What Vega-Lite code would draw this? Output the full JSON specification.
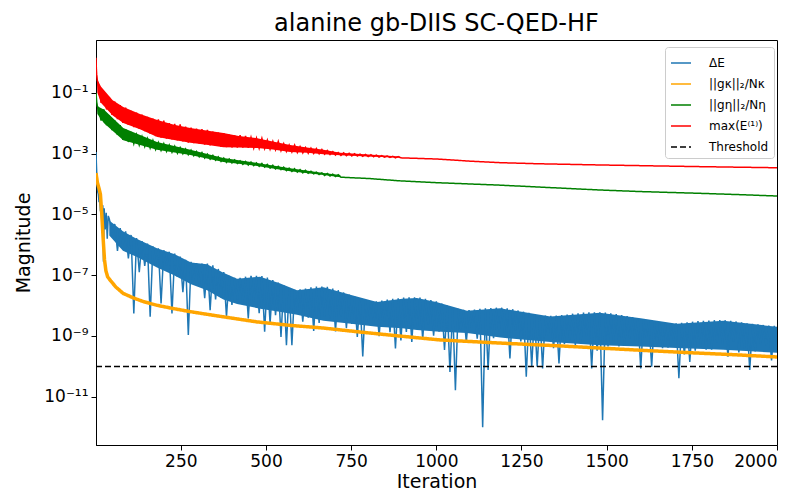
{
"$schema": "https://vega.github.io/schema/vega-lite/v6.json",
"width": 681, "height": 405,
"autosize": "none",
"padding": {"left": 96, "top": 40, "right": 24, "bottom": 53},
"background": "white",
"title": {"text": "alanine gb-DIIS SC-QED-HF", "fontSize": 24, "font": "DejaVu Sans", "fontWeight": "normal", "color": "#000", "offset": 4},
"data": {"values": [
{"b":"dE","x":40,"hi":6.3e-6,"lo":2.0e-6},{"b":"dE","x":80,"hi":2.8e-6,"lo":6.3e-7},{"b":"dE","x":120,"hi":1.58e-6,"lo":4.0e-7},{"b":"dE","x":180,"hi":7.6e-7,"lo":1.78e-7},{"b":"dE","x":230,"hi":5.0e-7,"lo":1.0e-7},{"b":"dE","x":280,"hi":2.6e-7,"lo":5.0e-8},{"b":"dE","x":327,"hi":2.3e-7,"lo":3.16e-8},{"b":"dE","x":375,"hi":1.2e-7,"lo":1.58e-8},{"b":"dE","x":415,"hi":7.6e-8,"lo":1.12e-8},{"b":"dE","x":483,"hi":8.9e-8,"lo":7.9e-9},{"b":"dE","x":540,"hi":5.4e-8,"lo":6.3e-9},{"b":"dE","x":591,"hi":3.16e-8,"lo":5.0e-9},{"b":"dE","x":669,"hi":4.0e-8,"lo":3.16e-9},{"b":"dE","x":750,"hi":2.24e-8,"lo":2.5e-9},{"b":"dE","x":826,"hi":1.32e-8,"lo":2.0e-9},{"b":"dE","x":900,"hi":1.66e-8,"lo":1.78e-9},{"b":"dE","x":943,"hi":1.78e-8,"lo":1.58e-9},{"b":"dE","x":1000,"hi":1.32e-8,"lo":1.41e-9},{"b":"dE","x":1090,"hi":6.8e-9,"lo":1.26e-9},{"b":"dE","x":1188,"hi":8.1e-9,"lo":8.9e-10},{"b":"dE","x":1335,"hi":4.4e-9,"lo":6.3e-10},{"b":"dE","x":1480,"hi":5.75e-9,"lo":5.0e-10},{"b":"dE","x":1600,"hi":3.8e-9,"lo":4.5e-10},{"b":"dE","x":1706,"hi":2.5e-9,"lo":4.0e-10},{"b":"dE","x":1843,"hi":3.16e-9,"lo":3.55e-10},{"b":"dE","x":2000,"hi":2.0e-9,"lo":2.8e-10},
{"b":"ge","x":1,"hi":0.1,"lo":0.1},{"b":"ge","x":5,"hi":3.55e-2,"lo":2.0e-2},{"b":"ge","x":24,"hi":2.8e-2,"lo":1.0e-2},{"b":"ge","x":81,"hi":6.9e-3,"lo":2.75e-3},{"b":"ge","x":180,"hi":2.4e-3,"lo":1.32e-3},{"b":"ge","x":278,"hi":1.32e-3,"lo":8.9e-4},{"b":"ge","x":375,"hi":7.1e-4,"lo":5.25e-4},{"b":"ge","x":474,"hi":4.9e-4,"lo":3.9e-4},{"b":"ge","x":571,"hi":3.3e-4,"lo":2.6e-4},{"b":"ge","x":669,"hi":2.3e-4,"lo":1.95e-4},{"b":"ge","x":718,"hi":1.95e-4,"lo":1.66e-4},
{"b":"mx","x":1,"hi":1.4,"lo":1.4},{"b":"mx","x":5,"hi":0.26,"lo":0.1},{"b":"mx","x":16,"hi":0.158,"lo":0.046},{"b":"mx","x":50,"hi":0.056,"lo":0.0178},{"b":"mx","x":81,"hi":0.034,"lo":0.01},{"b":"mx","x":130,"hi":0.02,"lo":6.3e-3},{"b":"mx","x":181,"hi":0.0126,"lo":3.5e-3},{"b":"mx","x":230,"hi":8.9e-3,"lo":2.8e-3},{"b":"mx","x":278,"hi":6.9e-3,"lo":2.24e-3},{"b":"mx","x":330,"hi":5.6e-3,"lo":1.9e-3},{"b":"mx","x":375,"hi":4.7e-3,"lo":1.62e-3},{"b":"mx","x":420,"hi":3.8e-3,"lo":1.58e-3},{"b":"mx","x":474,"hi":3.2e-3,"lo":1.51e-3},{"b":"mx","x":520,"hi":2.5e-3,"lo":1.35e-3},{"b":"mx","x":571,"hi":1.9e-3,"lo":1.12e-3},{"b":"mx","x":620,"hi":1.58e-3,"lo":1.05e-3},{"b":"mx","x":669,"hi":1.32e-3,"lo":9.5e-4},{"b":"mx","x":718,"hi":1.05e-3,"lo":8.7e-4},{"b":"mx","x":800,"hi":9.3e-4,"lo":7.9e-4},{"b":"mx","x":894,"hi":7.9e-4,"lo":7.2e-4},
{"s":"dE","x":1,"y":1.12e-3},{"s":"dE","x":2,"y":5.0e-4},{"s":"dE","x":3,"y":2.5e-4},{"s":"dE","x":4,"y":1.26e-4},{"s":"dE","x":5,"y":7.9e-5},{"s":"dE","x":6,"y":5.6e-5},{"s":"dE","x":8,"y":4.5e-5},{"s":"dE","x":10,"y":2.5e-5},{"s":"dE","x":12,"y":4.0e-5},{"s":"dE","x":14,"y":1.26e-5},{"s":"dE","x":16,"y":2.8e-5},{"s":"dE","x":19,"y":2.5e-6},{"s":"dE","x":21,"y":2.0e-5},{"s":"dE","x":23,"y":2.75e-7},{"s":"dE","x":25,"y":1.58e-5},{"s":"dE","x":28,"y":3.2e-6},{"s":"dE","x":31,"y":1.12e-5},{"s":"dE","x":34,"y":1.58e-6},{"s":"dE","x":37,"y":8.9e-6},
{"s":"dE","x":40,"y":7.1e-6},{"s":"dE","x":48,"y":2.5e-6},{"s":"dE","x":56,"y":4.8e-6},{"s":"dE","x":64,"y":6.3e-7},{"s":"dE","x":72,"y":3.5e-6},{"s":"dE","x":80,"y":1.0e-6},{"s":"dE","x":88,"y":2.75e-6},{"s":"dE","x":96,"y":3.55e-7},{"s":"dE","x":104,"y":2.1e-6},{"s":"dE","x":112,"y":5.5e-9},{"s":"dE","x":120,"y":1.66e-6},{"s":"dE","x":128,"y":1.26e-7},{"s":"dE","x":136,"y":1.32e-6},{"s":"dE","x":144,"y":2.0e-7},{"s":"dE","x":152,"y":1.1e-6},{"s":"dE","x":160,"y":4.3e-9},{"s":"dE","x":168,"y":8.9e-7},{"s":"dE","x":176,"y":2.3e-7},{"s":"dE","x":184,"y":7.6e-7},{"s":"dE","x":192,"y":1.17e-8},{"s":"dE","x":200,"y":6.6e-7},{"s":"dE","x":208,"y":2.1e-7},{"s":"dE","x":216,"y":5.9e-7},{"s":"dE","x":224,"y":5.5e-9},{"s":"dE","x":232,"y":5.1e-7},{"s":"dE","x":240,"y":8.7e-8},{"s":"dE","x":248,"y":4.1e-7},{"s":"dE","x":256,"y":2.75e-8},{"s":"dE","x":264,"y":3.2e-7},{"s":"dE","x":272,"y":1.07e-9},{"s":"dE","x":280,"y":2.75e-7},{"s":"dE","x":288,"y":6.6e-8},{"s":"dE","x":296,"y":2.5e-7},{"s":"dE","x":304,"y":5.0e-8},{"s":"dE","x":312,"y":2.4e-7},{"s":"dE","x":320,"y":1.74e-8},{"s":"dE","x":328,"y":2.4e-7},{"s":"dE","x":336,"y":7.1e-9},{"s":"dE","x":344,"y":2.1e-7},{"s":"dE","x":352,"y":1.58e-8},{"s":"dE","x":360,"y":1.6e-7},{"s":"dE","x":368,"y":1.86e-8},{"s":"dE","x":376,"y":1.26e-7},{"s":"dE","x":384,"y":4.3e-9},{"s":"dE","x":392,"y":9.5e-8},{"s":"dE","x":400,"y":1.05e-8},{"s":"dE","x":408,"y":8.1e-8},{"s":"dE","x":416,"y":1.6e-8},{"s":"dE","x":424,"y":8.1e-8},{"s":"dE","x":432,"y":1.26e-8},{"s":"dE","x":440,"y":8.9e-8},{"s":"dE","x":448,"y":3.8e-9},{"s":"dE","x":456,"y":9.5e-8},{"s":"dE","x":464,"y":1.35e-8},{"s":"dE","x":472,"y":9.5e-8},{"s":"dE","x":480,"y":5.6e-9},{"s":"dE","x":488,"y":9.3e-8},{"s":"dE","x":496,"y":1.38e-9},{"s":"dE","x":504,"y":8.3e-8},{"s":"dE","x":512,"y":2.6e-9},{"s":"dE","x":520,"y":6.9e-8},{"s":"dE","x":528,"y":4.8e-9},{"s":"dE","x":536,"y":5.75e-8},{"s":"dE","x":544,"y":9.3e-10},{"s":"dE","x":552,"y":4.7e-8},{"s":"dE","x":560,"y":5.0e-10},{"s":"dE","x":568,"y":3.8e-8},{"s":"dE","x":576,"y":5.0e-10},{"s":"dE","x":584,"y":3.3e-8},{"s":"dE","x":592,"y":7.2e-9},{"s":"dE","x":600,"y":3.4e-8},{"s":"dE","x":608,"y":2.95e-9},{"s":"dE","x":616,"y":3.6e-8},{"s":"dE","x":624,"y":4.0e-9},{"s":"dE","x":632,"y":4.0e-8},{"s":"dE","x":640,"y":1.45e-9},{"s":"dE","x":648,"y":4.2e-8},{"s":"dE","x":656,"y":2.7e-9},{"s":"dE","x":664,"y":4.2e-8},{"s":"dE","x":672,"y":4.5e-9},{"s":"dE","x":680,"y":4.1e-8},{"s":"dE","x":688,"y":3.8e-9},{"s":"dE","x":696,"y":3.6e-8},{"s":"dE","x":704,"y":1.41e-9},{"s":"dE","x":712,"y":3.2e-8},{"s":"dE","x":720,"y":4.3e-9},{"s":"dE","x":728,"y":2.7e-8},{"s":"dE","x":736,"y":1.82e-9},{"s":"dE","x":744,"y":2.3e-8},{"s":"dE","x":752,"y":2.5e-9},{"s":"dE","x":760,"y":2.0e-8},{"s":"dE","x":768,"y":9.3e-10},{"s":"dE","x":776,"y":1.74e-8},{"s":"dE","x":784,"y":2.1e-10},{"s":"dE","x":792,"y":1.51e-8},{"s":"dE","x":800,"y":2.95e-9},{"s":"dE","x":808,"y":1.41e-8},{"s":"dE","x":816,"y":2.5e-9},{"s":"dE","x":824,"y":1.38e-8},{"s":"dE","x":832,"y":9.8e-10},{"s":"dE","x":840,"y":1.45e-8},{"s":"dE","x":848,"y":3.0e-9},{"s":"dE","x":856,"y":1.58e-8},{"s":"dE","x":864,"y":1.32e-9},{"s":"dE","x":872,"y":1.66e-8},{"s":"dE","x":880,"y":3.9e-10},{"s":"dE","x":888,"y":1.74e-8},{"s":"dE","x":896,"y":7.1e-10},{"s":"dE","x":904,"y":1.82e-8},{"s":"dE","x":912,"y":1.35e-9},{"s":"dE","x":920,"y":1.86e-8},{"s":"dE","x":928,"y":6.3e-10},{"s":"dE","x":936,"y":1.86e-8},{"s":"dE","x":944,"y":2.0e-9},{"s":"dE","x":952,"y":1.82e-8},{"s":"dE","x":960,"y":7.8e-10},{"s":"dE","x":968,"y":1.66e-8},{"s":"dE","x":976,"y":2.3e-9},{"s":"dE","x":984,"y":1.51e-8},{"s":"dE","x":992,"y":1.02e-9},{"s":"dE","x":1000,"y":1.38e-8},{"s":"dE","x":1008,"y":1.38e-9},{"s":"dE","x":1016,"y":1.17e-8},{"s":"dE","x":1024,"y":3.5e-10},{"s":"dE","x":1032,"y":1.0e-8},{"s":"dE","x":1040,"y":6.6e-11},{"s":"dE","x":1048,"y":8.7e-9},{"s":"dE","x":1056,"y":1.66e-11},{"s":"dE","x":1064,"y":7.8e-9},{"s":"dE","x":1072,"y":1.58e-9},{"s":"dE","x":1080,"y":7.2e-9},{"s":"dE","x":1088,"y":6.2e-10},{"s":"dE","x":1096,"y":7.1e-9},{"s":"dE","x":1104,"y":1.86e-9},{"s":"dE","x":1112,"y":7.4e-9},{"s":"dE","x":1120,"y":8.1e-10},{"s":"dE","x":1128,"y":7.8e-9},{"s":"dE","x":1136,"y":1.0e-12},{"s":"dE","x":1144,"y":8.1e-9},{"s":"dE","x":1152,"y":7.6e-11},{"s":"dE","x":1160,"y":8.3e-9},{"s":"dE","x":1168,"y":8.5e-10},{"s":"dE","x":1176,"y":8.5e-9},{"s":"dE","x":1184,"y":1.45e-9},{"s":"dE","x":1192,"y":8.5e-9},{"s":"dE","x":1200,"y":1.26e-9},{"s":"dE","x":1208,"y":8.1e-9},{"s":"dE","x":1216,"y":1.82e-10},{"s":"dE","x":1224,"y":7.6e-9},{"s":"dE","x":1232,"y":1.51e-9},{"s":"dE","x":1240,"y":6.9e-9},{"s":"dE","x":1248,"y":6.6e-10},{"s":"dE","x":1256,"y":6.3e-9},{"s":"dE","x":1264,"y":4.6e-11},{"s":"dE","x":1272,"y":5.75e-9},{"s":"dE","x":1280,"y":9.8e-11},{"s":"dE","x":1288,"y":5.25e-9},{"s":"dE","x":1296,"y":9.8e-11},{"s":"dE","x":1304,"y":4.9e-9},{"s":"dE","x":1312,"y":8.5e-11},{"s":"dE","x":1320,"y":4.7e-9},{"s":"dE","x":1328,"y":1.02e-9},{"s":"dE","x":1336,"y":4.6e-9},{"s":"dE","x":1344,"y":4.0e-10},{"s":"dE","x":1352,"y":4.7e-9},{"s":"dE","x":1360,"y":1.26e-10},{"s":"dE","x":1368,"y":4.9e-9},{"s":"dE","x":1376,"y":5.4e-10},{"s":"dE","x":1384,"y":5.1e-9},{"s":"dE","x":1392,"y":7.4e-10},{"s":"dE","x":1400,"y":5.4e-9},{"s":"dE","x":1408,"y":5.0e-10},{"s":"dE","x":1416,"y":5.6e-9},{"s":"dE","x":1424,"y":5.6e-10},{"s":"dE","x":1432,"y":5.9e-9},{"s":"dE","x":1440,"y":9.8e-10},{"s":"dE","x":1448,"y":6.0e-9},{"s":"dE","x":1456,"y":8.5e-11},{"s":"dE","x":1464,"y":6.0e-9},{"s":"dE","x":1472,"y":3.3e-10},{"s":"dE","x":1480,"y":6.0e-9},{"s":"dE","x":1488,"y":1.7e-12},{"s":"dE","x":1496,"y":5.9e-9},{"s":"dE","x":1504,"y":4.5e-10},{"s":"dE","x":1512,"y":5.6e-9},{"s":"dE","x":1520,"y":6.2e-10},{"s":"dE","x":1528,"y":5.25e-9},{"s":"dE","x":1536,"y":4.5e-10},{"s":"dE","x":1544,"y":4.9e-9},{"s":"dE","x":1552,"y":4.7e-10},{"s":"dE","x":1560,"y":4.5e-9},{"s":"dE","x":1568,"y":8.1e-10},{"s":"dE","x":1576,"y":4.2e-9},{"s":"dE","x":1584,"y":7.1e-10},{"s":"dE","x":1592,"y":3.9e-9},{"s":"dE","x":1600,"y":8.5e-11},{"s":"dE","x":1608,"y":3.55e-9},{"s":"dE","x":1616,"y":8.7e-10},{"s":"dE","x":1624,"y":3.2e-9},{"s":"dE","x":1632,"y":9.8e-11},{"s":"dE","x":1640,"y":3.0e-9},{"s":"dE","x":1648,"y":5.4e-10},{"s":"dE","x":1656,"y":2.8e-9},{"s":"dE","x":1664,"y":4.0e-10},{"s":"dE","x":1672,"y":2.7e-9},{"s":"dE","x":1680,"y":4.1e-10},{"s":"dE","x":1688,"y":2.6e-9},{"s":"dE","x":1696,"y":7.1e-10},{"s":"dE","x":1704,"y":2.6e-9},{"s":"dE","x":1712,"y":4.1e-11},{"s":"dE","x":1720,"y":2.7e-9},{"s":"dE","x":1728,"y":2.45e-10},{"s":"dE","x":1736,"y":2.8e-9},{"s":"dE","x":1744,"y":1.41e-10},{"s":"dE","x":1752,"y":2.95e-9},{"s":"dE","x":1760,"y":3.3e-10},{"s":"dE","x":1768,"y":3.1e-9},{"s":"dE","x":1776,"y":4.6e-10},{"s":"dE","x":1784,"y":3.16e-9},{"s":"dE","x":1792,"y":3.55e-10},{"s":"dE","x":1800,"y":3.2e-9},{"s":"dE","x":1808,"y":3.55e-10},{"s":"dE","x":1816,"y":3.3e-9},{"s":"dE","x":1824,"y":6.2e-10},{"s":"dE","x":1832,"y":3.3e-9},{"s":"dE","x":1840,"y":5.4e-10},{"s":"dE","x":1848,"y":3.3e-9},{"s":"dE","x":1856,"y":2.1e-10},{"s":"dE","x":1864,"y":3.16e-9},{"s":"dE","x":1872,"y":6.6e-10},{"s":"dE","x":1880,"y":3.0e-9},{"s":"dE","x":1888,"y":2.9e-10},{"s":"dE","x":1896,"y":2.8e-9},{"s":"dE","x":1904,"y":4.0e-10},{"s":"dE","x":1912,"y":2.6e-9},{"s":"dE","x":1920,"y":7.6e-11},{"s":"dE","x":1928,"y":2.5e-9},{"s":"dE","x":1936,"y":3.1e-10},{"s":"dE","x":1944,"y":2.4e-9},{"s":"dE","x":1952,"y":5.4e-10},{"s":"dE","x":1960,"y":2.3e-9},{"s":"dE","x":1968,"y":4.7e-10},{"s":"dE","x":1976,"y":2.2e-9},{"s":"dE","x":1984,"y":1.58e-10},{"s":"dE","x":1992,"y":2.14e-9},{"s":"dE","x":2000,"y":4.0e-10},
{"s":"gk","x":1,"y":2.3e-4},{"s":"gk","x":5,"y":1.12e-4},{"s":"gk","x":10,"y":7.1e-5},{"s":"gk","x":14,"y":4.5e-5},{"s":"gk","x":18,"y":1.0e-5},{"s":"gk","x":22,"y":1.58e-6},{"s":"gk","x":26,"y":3.16e-7},{"s":"gk","x":30,"y":1.41e-7},{"s":"gk","x":35,"y":8.9e-8},{"s":"gk","x":45,"y":6.3e-8},{"s":"gk","x":60,"y":4.0e-8},{"s":"gk","x":81,"y":2.5e-8},{"s":"gk","x":111,"y":1.78e-8},{"s":"gk","x":140,"y":1.35e-8},{"s":"gk","x":180,"y":1.02e-8},{"s":"gk","x":230,"y":7.9e-9},{"s":"gk","x":278,"y":6.3e-9},{"s":"gk","x":350,"y":4.7e-9},{"s":"gk","x":474,"y":2.9e-9},{"s":"gk","x":570,"y":2.24e-9},{"s":"gk","x":669,"y":1.82e-9},{"s":"gk","x":760,"y":1.41e-9},{"s":"gk","x":864,"y":1.07e-9},{"s":"gk","x":1011,"y":7.4e-10},{"s":"gk","x":1200,"y":5.75e-10},{"s":"gk","x":1350,"y":4.8e-10},{"s":"gk","x":1481,"y":4.0e-10},{"s":"gk","x":1620,"y":3.3e-10},{"s":"gk","x":1750,"y":2.8e-10},{"s":"gk","x":1880,"y":2.4e-10},{"s":"gk","x":2000,"y":2.04e-10},
{"s":"ge","x":1,"y":0.1},{"s":"ge","x":3,"y":0.05},{"s":"ge","x":5,"y":0.035},{"s":"ge","x":8,"y":3.2e-2},{"s":"ge","x":16,"y":1.2e-2},{"s":"ge","x":24,"y":2.8e-2},{"s":"ge","x":32,"y":8.5e-3},{"s":"ge","x":40,"y":1.78e-2},{"s":"ge","x":48,"y":5.9e-3},{"s":"ge","x":56,"y":1.23e-2},{"s":"ge","x":64,"y":4.1e-3},{"s":"ge","x":72,"y":8.5e-3},{"s":"ge","x":80,"y":2.8e-3},{"s":"ge","x":88,"y":6.3e-3},{"s":"ge","x":96,"y":2.4e-3},{"s":"ge","x":104,"y":5.1e-3},{"s":"ge","x":112,"y":2.1e-3},{"s":"ge","x":120,"y":4.2e-3},{"s":"ge","x":128,"y":1.9e-3},{"s":"ge","x":136,"y":3.6e-3},{"s":"ge","x":144,"y":1.7e-3},{"s":"ge","x":152,"y":3.1e-3},{"s":"ge","x":160,"y":1.51e-3},{"s":"ge","x":168,"y":2.7e-3},{"s":"ge","x":176,"y":1.35e-3},{"s":"ge","x":184,"y":2.3e-3},{"s":"ge","x":192,"y":1.26e-3},{"s":"ge","x":200,"y":2.1e-3},{"s":"ge","x":208,"y":1.17e-3},{"s":"ge","x":216,"y":1.9e-3},{"s":"ge","x":224,"y":1.1e-3},{"s":"ge","x":232,"y":1.74e-3},{"s":"ge","x":240,"y":1.02e-3},{"s":"ge","x":248,"y":1.58e-3},{"s":"ge","x":256,"y":9.8e-4},{"s":"ge","x":264,"y":1.41e-3},{"s":"ge","x":272,"y":9.1e-4},{"s":"ge","x":280,"y":1.29e-3},{"s":"ge","x":288,"y":8.5e-4},{"s":"ge","x":296,"y":1.17e-3},{"s":"ge","x":304,"y":7.8e-4},{"s":"ge","x":312,"y":1.07e-3},{"s":"ge","x":320,"y":7.1e-4},{"s":"ge","x":328,"y":9.5e-4},{"s":"ge","x":336,"y":6.5e-4},{"s":"ge","x":344,"y":8.7e-4},{"s":"ge","x":352,"y":6.0e-4},{"s":"ge","x":360,"y":7.8e-4},{"s":"ge","x":368,"y":5.5e-4},{"s":"ge","x":376,"y":7.1e-4},{"s":"ge","x":384,"y":5.1e-4},{"s":"ge","x":392,"y":6.6e-4},{"s":"ge","x":400,"y":4.9e-4},{"s":"ge","x":408,"y":6.2e-4},{"s":"ge","x":416,"y":4.7e-4},{"s":"ge","x":424,"y":5.75e-4},{"s":"ge","x":432,"y":4.4e-4},{"s":"ge","x":440,"y":5.5e-4},{"s":"ge","x":448,"y":4.2e-4},{"s":"ge","x":456,"y":5.25e-4},{"s":"ge","x":464,"y":4.0e-4},{"s":"ge","x":472,"y":4.9e-4},{"s":"ge","x":480,"y":3.8e-4},{"s":"ge","x":488,"y":4.7e-4},{"s":"ge","x":496,"y":3.55e-4},{"s":"ge","x":504,"y":4.4e-4},{"s":"ge","x":512,"y":3.3e-4},{"s":"ge","x":520,"y":4.1e-4},{"s":"ge","x":528,"y":3.1e-4},{"s":"ge","x":536,"y":3.8e-4},{"s":"ge","x":544,"y":2.95e-4},{"s":"ge","x":552,"y":3.55e-4},{"s":"ge","x":560,"y":2.75e-4},{"s":"ge","x":568,"y":3.3e-4},{"s":"ge","x":576,"y":2.57e-4},{"s":"ge","x":584,"y":3.16e-4},{"s":"ge","x":592,"y":2.45e-4},{"s":"ge","x":600,"y":2.95e-4},{"s":"ge","x":608,"y":2.3e-4},{"s":"ge","x":616,"y":2.8e-4},{"s":"ge","x":624,"y":2.24e-4},{"s":"ge","x":632,"y":2.6e-4},{"s":"ge","x":640,"y":2.14e-4},{"s":"ge","x":648,"y":2.45e-4},{"s":"ge","x":656,"y":2.04e-4},{"s":"ge","x":664,"y":2.3e-4},{"s":"ge","x":672,"y":1.9e-4},{"s":"ge","x":680,"y":2.2e-4},{"s":"ge","x":688,"y":1.82e-4},{"s":"ge","x":696,"y":2.1e-4},{"s":"ge","x":704,"y":1.74e-4},{"s":"ge","x":712,"y":2.0e-4},{"s":"ge","x":720,"y":1.66e-4},{"s":"ge","x":800,"y":1.51e-4},{"s":"ge","x":894,"y":1.26e-4},{"s":"ge","x":1000,"y":1.1e-4},{"s":"ge","x":1188,"y":9.1e-5},{"s":"ge","x":1300,"y":7.9e-5},{"s":"ge","x":1481,"y":6.3e-5},{"s":"ge","x":1600,"y":5.6e-5},{"s":"ge","x":1775,"y":4.9e-5},{"s":"ge","x":1900,"y":4.4e-5},{"s":"ge","x":2000,"y":4.0e-5},
{"s":"mx","x":1,"y":1.4},{"s":"mx","x":2,"y":0.63},{"s":"mx","x":3,"y":0.4},{"s":"mx","x":5,"y":0.25},{"s":"mx","x":8,"y":0.2},{"s":"mx","x":16,"y":0.046},{"s":"mx","x":24,"y":0.107},{"s":"mx","x":32,"y":0.028},{"s":"mx","x":40,"y":0.072},{"s":"mx","x":48,"y":0.0186},{"s":"mx","x":56,"y":0.051},{"s":"mx","x":64,"y":0.0135},{"s":"mx","x":72,"y":0.039},{"s":"mx","x":80,"y":0.0102},{"s":"mx","x":88,"y":0.032},{"s":"mx","x":96,"y":8.7e-3},{"s":"mx","x":104,"y":0.025},{"s":"mx","x":112,"y":7.4e-3},{"s":"mx","x":120,"y":0.022},{"s":"mx","x":128,"y":6.5e-3},{"s":"mx","x":136,"y":0.019},{"s":"mx","x":144,"y":5.4e-3},{"s":"mx","x":152,"y":0.016},{"s":"mx","x":160,"y":4.5e-3},{"s":"mx","x":168,"y":0.014},{"s":"mx","x":176,"y":3.7e-3},{"s":"mx","x":184,"y":0.0132},{"s":"mx","x":192,"y":3.3e-3},{"s":"mx","x":200,"y":0.012},{"s":"mx","x":208,"y":3.1e-3},{"s":"mx","x":216,"y":0.01},{"s":"mx","x":224,"y":2.9e-3},{"s":"mx","x":232,"y":9.5e-3},{"s":"mx","x":240,"y":2.7e-3},{"s":"mx","x":248,"y":9.1e-3},{"s":"mx","x":256,"y":2.5e-3},{"s":"mx","x":264,"y":7.6e-3},{"s":"mx","x":272,"y":2.3e-3},{"s":"mx","x":280,"y":7.1e-3},{"s":"mx","x":288,"y":2.2e-3},{"s":"mx","x":296,"y":6.6e-3},{"s":"mx","x":304,"y":2.1e-3},{"s":"mx","x":312,"y":6.3e-3},{"s":"mx","x":320,"y":1.95e-3},{"s":"mx","x":328,"y":6.0e-3},{"s":"mx","x":336,"y":1.86e-3},{"s":"mx","x":344,"y":5.25e-3},{"s":"mx","x":352,"y":1.78e-3},{"s":"mx","x":360,"y":4.9e-3},{"s":"mx","x":368,"y":1.66e-3},{"s":"mx","x":376,"y":4.7e-3},{"s":"mx","x":384,"y":1.62e-3},{"s":"mx","x":392,"y":4.2e-3},{"s":"mx","x":400,"y":1.58e-3},{"s":"mx","x":408,"y":3.9e-3},{"s":"mx","x":416,"y":1.58e-3},{"s":"mx","x":424,"y":4.0e-3},{"s":"mx","x":432,"y":1.58e-3},{"s":"mx","x":440,"y":3.8e-3},{"s":"mx","x":448,"y":1.55e-3},{"s":"mx","x":456,"y":3.4e-3},{"s":"mx","x":464,"y":1.51e-3},{"s":"mx","x":472,"y":3.2e-3},{"s":"mx","x":480,"y":1.48e-3},{"s":"mx","x":488,"y":3.16e-3},{"s":"mx","x":496,"y":1.45e-3},{"s":"mx","x":504,"y":2.75e-3},{"s":"mx","x":512,"y":1.38e-3},{"s":"mx","x":520,"y":2.5e-3},{"s":"mx","x":528,"y":1.32e-3},{"s":"mx","x":536,"y":2.5e-3},{"s":"mx","x":544,"y":1.23e-3},{"s":"mx","x":552,"y":2.1e-3},{"s":"mx","x":560,"y":1.17e-3},{"s":"mx","x":568,"y":1.9e-3},{"s":"mx","x":576,"y":1.12e-3},{"s":"mx","x":584,"y":1.9e-3},{"s":"mx","x":592,"y":1.07e-3},{"s":"mx","x":600,"y":1.7e-3},{"s":"mx","x":608,"y":1.05e-3},{"s":"mx","x":616,"y":1.58e-3},{"s":"mx","x":624,"y":1.02e-3},{"s":"mx","x":632,"y":1.51e-3},{"s":"mx","x":640,"y":1.0e-3},{"s":"mx","x":648,"y":1.45e-3},{"s":"mx","x":656,"y":9.8e-4},{"s":"mx","x":664,"y":1.35e-3},{"s":"mx","x":672,"y":9.5e-4},{"s":"mx","x":680,"y":1.26e-3},{"s":"mx","x":688,"y":9.3e-4},{"s":"mx","x":696,"y":1.15e-3},{"s":"mx","x":704,"y":8.9e-4},{"s":"mx","x":712,"y":1.07e-3},{"s":"mx","x":720,"y":8.7e-4},{"s":"mx","x":728,"y":1.05e-3},{"s":"mx","x":736,"y":8.5e-4},{"s":"mx","x":744,"y":1.02e-3},{"s":"mx","x":752,"y":8.3e-4},{"s":"mx","x":760,"y":9.8e-4},{"s":"mx","x":768,"y":8.3e-4},{"s":"mx","x":776,"y":9.5e-4},{"s":"mx","x":784,"y":8.1e-4},{"s":"mx","x":792,"y":9.3e-4},{"s":"mx","x":800,"y":7.9e-4},{"s":"mx","x":808,"y":9.1e-4},{"s":"mx","x":816,"y":7.8e-4},{"s":"mx","x":824,"y":8.9e-4},{"s":"mx","x":832,"y":7.6e-4},{"s":"mx","x":840,"y":8.5e-4},{"s":"mx","x":848,"y":7.6e-4},{"s":"mx","x":856,"y":8.3e-4},{"s":"mx","x":864,"y":7.4e-4},{"s":"mx","x":872,"y":8.1e-4},{"s":"mx","x":880,"y":7.2e-4},{"s":"mx","x":888,"y":7.9e-4},{"s":"mx","x":896,"y":7.2e-4},{"s":"mx","x":1000,"y":6.6e-4},{"s":"mx","x":1100,"y":5.6e-4},{"s":"mx","x":1188,"y":5.0e-4},{"s":"mx","x":1300,"y":4.6e-4},{"s":"mx","x":1481,"y":4.2e-4},{"s":"mx","x":1650,"y":3.9e-4},{"s":"mx","x":1775,"y":3.7e-4},{"s":"mx","x":2000,"y":3.4e-4},
{"s":"th","x":1,"y":1e-10},{"s":"th","x":2000,"y":1e-10}
]},
"encoding": {
  "x": {"field": "x", "type": "quantitative",
        "scale": {"domain": [1, 2000], "nice": false, "zero": false},
        "axis": {"title": "Iteration", "values": [250, 500, 750, 1000, 1250, 1500, 1750, 2000], "format": "d"}}
},
"layer": [
  {"transform": [{"filter": "datum.b == 'dE'"}], "mark": {"type": "area", "orient": "vertical", "fill": "#1f77b4", "fillOpacity": 1},
   "encoding": {"y": {"field": "hi", "type": "quantitative", "title": "Magnitude", "scale": {"type": "log", "domain": [2.6e-13, 5.4], "nice": false}, "stack": null}, "y2": {"field": "lo"}}},
  {"transform": [{"filter": "datum.b == 'ge'"}], "mark": {"type": "area", "orient": "vertical", "fill": "#008000", "fillOpacity": 1},
   "encoding": {"y": {"field": "hi", "type": "quantitative", "title": "Magnitude", "stack": null}, "y2": {"field": "lo"}}},
  {"transform": [{"filter": "datum.b == 'mx'"}], "mark": {"type": "area", "orient": "vertical", "fill": "#ff0000", "fillOpacity": 1},
   "encoding": {"y": {"field": "hi", "type": "quantitative", "title": "Magnitude", "stack": null}, "y2": {"field": "lo"}}},
  {"transform": [{"filter": "datum.s != null"}],
   "encoding": {
     "y": {"field": "y", "type": "quantitative", "title": "Magnitude",
           "axis": {"title": "Magnitude", "values": [1e-11, 1e-9, 1e-7, 1e-5, 1e-3, 1e-1],
                    "labelExpr": "datum.value < 5e-11 ? '10⁻¹¹' : datum.value < 5e-9 ? '10⁻⁹' : datum.value < 5e-7 ? '10⁻⁷' : datum.value < 5e-5 ? '10⁻⁵' : datum.value < 5e-3 ? '10⁻³' : '10⁻¹'"}},
     "color": {"field": "s", "type": "nominal",
               "scale": {"domain": ["dE", "gk", "ge", "mx", "th"], "range": ["#1f77b4", "#ffa500", "#008000", "#ff0000", "#000000"]},
               "legend": {"title": null, "orient": "none", "legendX": 569, "legendY": 7,
                          "labelExpr": "datum.value == 'dE' ? 'ΔE' : datum.value == 'gk' ? '||gκ||₂/Nκ' : datum.value == 'ge' ? '||gη||₂/Nη' : datum.value == 'mx' ? 'max(E⁽¹⁾)' : 'Threshold'"}},
     "strokeDash": {"field": "s", "type": "nominal",
               "scale": {"domain": ["dE", "gk", "ge", "mx", "th"], "range": [[1, 0], [1, 0], [1, 0], [1, 0], [6, 3]]},
               "legend": {"title": null, "orient": "none", "legendX": 569, "legendY": 7,
                          "labelExpr": "datum.value == 'dE' ? 'ΔE' : datum.value == 'gk' ? '||gκ||₂/Nκ' : datum.value == 'ge' ? '||gη||₂/Nη' : datum.value == 'mx' ? 'max(E⁽¹⁾)' : 'Threshold'"}},
     "order": {"field": "x", "type": "quantitative"}
   },
   "layer": [
     {"transform": [{"filter": "datum.s == 'dE'"}], "mark": {"type": "line", "strokeWidth": 1.5, "clip": true}},
     {"transform": [{"filter": "datum.s == 'gk'"}], "mark": {"type": "line", "strokeWidth": 3.5, "clip": true}},
     {"transform": [{"filter": "datum.s == 'ge'"}], "mark": {"type": "line", "strokeWidth": 1.5, "clip": true}},
     {"transform": [{"filter": "datum.s == 'mx'"}], "mark": {"type": "line", "strokeWidth": 1.5, "clip": true}},
     {"transform": [{"filter": "datum.s == 'th'"}], "mark": {"type": "line", "strokeWidth": 1.5, "clip": true}}
   ]
  }
],
"config": {
  "font": "DejaVu Sans",
  "view": {"stroke": "#000000", "strokeWidth": 1},
  "axis": {"grid": false, "domainColor": "#000000", "tickColor": "#000000", "tickSize": 5, "labelColor": "#000000", "titleColor": "#000000",
           "labelFont": "DejaVu Sans", "titleFont": "DejaVu Sans", "labelFontSize": 17, "titleFontSize": 19, "titleFontWeight": "normal", "labelPadding": 3},
  "axisX": {"titlePadding": 3},
  "axisY": {"titlePadding": 10},
  "legend": {"fillColor": "#ffffff", "strokeColor": "#cccccc", "cornerRadius": 3, "padding": 5, "labelFontSize": 12, "labelFont": "DejaVu Sans", "labelColor": "#000000",
             "symbolType": "stroke", "symbolStrokeWidth": 1.5, "symbolSize": 400, "rowPadding": 4, "labelOffset": 17}
}
}
